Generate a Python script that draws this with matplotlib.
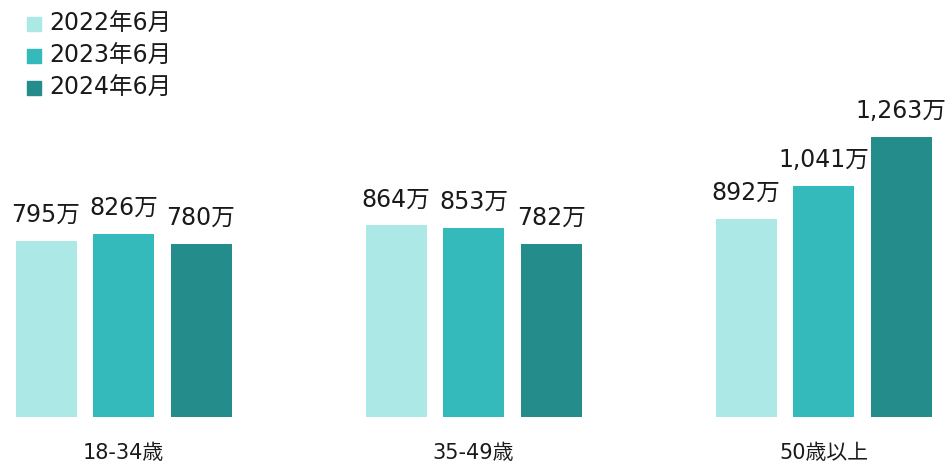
import matplotlib.pyplot as plt
import numpy as np
from matplotlib.patches import Rectangle

plt.rcParams['font.family'] = ['DejaVu Sans', 'Noto Sans CJK JP']

categories = ["18-34歳", "35-49歳", "50歳以上"]
series_names = ["2022年6月", "2023年6月", "2024年6月"]
v2022 = [795, 864, 892]
v2023 = [826, 853, 1041]
v2024 = [780, 782, 1263]
colors = ["#ACE8E6", "#34BABA", "#248C8A"]

W, H = 952, 466
fig = plt.figure(figsize=(W / 100, H / 100), dpi=100)
# baseline of the bars sits 417 px from the top
ax = fig.add_axes([0, 49 / H, 1, 417 / H])
px = 0.2217  # pixels per value unit

x = np.arange(len(categories))
step = 77.5 / 350
width = 61 / 350
for i, (vals, c) in enumerate(zip([v2022, v2023, v2024], colors)):
    pos = x + (i - 1) * step
    ax.bar(pos, vals, width=width, color=c)
    for p, v in zip(pos, vals):
        ax.text(p, v + 19 / px, f"{v:,}万", ha="center", va="baseline",
                fontsize=17, color="#1a1a1a")

ax.set_xlim(-123.5 / 350, (W - 123.5) / 350)
ax.set_ylim(0, 417 / px)
ax.axis("off")

for xi, cat in zip(x, categories):
    ax.text(xi, -36 / px, cat, ha="center", va="center", fontsize=15, color="#1a1a1a")

# legend drawn by hand in figure pixels
for k, (name, c) in enumerate(zip(series_names, colors)):
    yc = 24 + 32 * k
    fig.patches.append(Rectangle((27 / W, 1 - (yc + 7) / H), 14 / W, 14 / H,
                                 transform=fig.transFigure, color=c))
    fig.text(49 / W, 1 - yc / H, name, ha="left", va="center", fontsize=17, color="#1a1a1a")

fig.savefig("out.png", dpi=100)
